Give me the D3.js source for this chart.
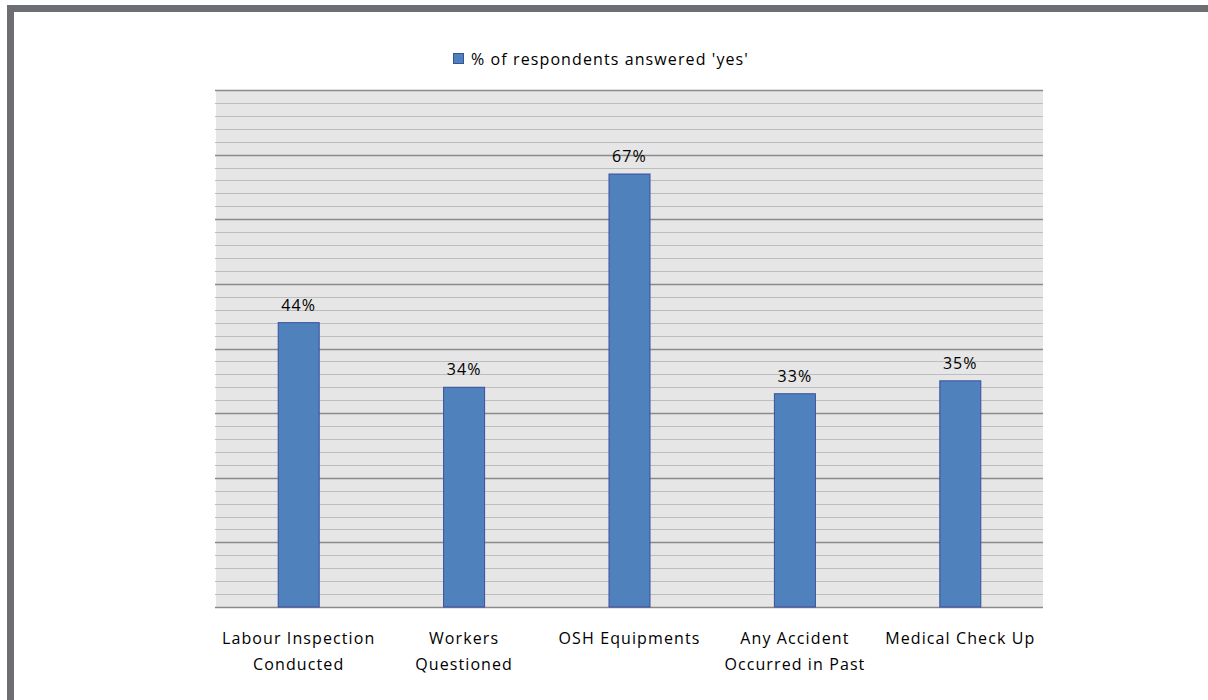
<!DOCTYPE html>
<html><head><meta charset="utf-8">
<script src="https://cdn.jsdelivr.net/npm/d3@7"></script>
<style>
body{margin:0;background:#fff;}
text{font-family:"Open Sans",sans-serif;fill:#000;}
</style></head><body>
<svg id="c" width="1208" height="700"></svg>
<script>
const categories = [["Labour Inspection","Conducted"],["Workers","Questioned"],["OSH Equipments"],["Any Accident","Occurred in Past"],["Medical Check Up"]];
const values = [44, 34, 67, 33, 35];
const seriesName = "% of respondents answered 'yes'";
const yMax = 80;

const svg = d3.select("#c");
// frame
svg.append("rect").attr("x",0).attr("y",0).attr("width",1208).attr("height",700).attr("fill","#fff");
svg.append("rect").attr("x",7).attr("y",5).attr("width",1201).attr("height",7).attr("fill","#6d6e71");
svg.append("rect").attr("x",7).attr("y",5).attr("width",7).attr("height",695).attr("fill","#6d6e71");

const L=216, R=1043, T=90, B=607;
const x = d3.scaleBand().domain(d3.range(values.length)).range([L,R]).paddingInner(0).paddingOuter(0);
const y = d3.scaleLinear().domain([0,yMax]).range([B,T]);

svg.append("rect").attr("x",L).attr("y",T).attr("width",R-L).attr("height",B-T).attr("fill","#e6e6e6");

const ticks = d3.range(0, yMax+0.001, 2);
svg.append("g").selectAll("line").data(ticks).join("line")
  .attr("x1",L-1).attr("x2",R).attr("y1",d=>Math.round(y(d))+0.5).attr("y2",d=>Math.round(y(d))+0.5)
  .attr("stroke",d=>d%10===0?"#8a8a8a":"#bdbdbd").attr("stroke-width",d=>d%10===0?1.3:1.2);

const bw = 41;
svg.append("g").selectAll("rect").data(values).join("rect")
  .attr("x",(d,i)=>x(i)+x.bandwidth()/2-bw/2).attr("y",d=>y(d))
  .attr("width",bw).attr("height",d=>B-y(d))
  .attr("fill","#4f81bd").attr("stroke","#3b4f9e").attr("stroke-width",1);

svg.append("g").selectAll("text").data(values).join("text")
  .attr("x",(d,i)=>x(i)+x.bandwidth()/2).attr("y",d=>y(d)-12)
  .attr("text-anchor","middle").attr("font-size",16).attr("letter-spacing",1.1)
  .text(d=>d+"%");

const xl = svg.append("g").selectAll("text").data(categories).join("text")
  .attr("text-anchor","middle").attr("font-size",16).attr("letter-spacing",1.1);
xl.each(function(lines,i){
  const t=d3.select(this);
  lines.forEach((ln,j)=>{
    t.append("tspan").attr("x",x(i)+x.bandwidth()/2).attr("y",644+j*26).text(ln);
  });
});

// legend
svg.append("rect").attr("x",453.5).attr("y",53.5).attr("width",10).attr("height",10).attr("fill","#4f81bd").attr("stroke","#3b4f9e");
svg.append("text").attr("x",471).attr("y",65).attr("font-size",16).attr("letter-spacing",1.1).text(seriesName);
</script>
</body></html>
